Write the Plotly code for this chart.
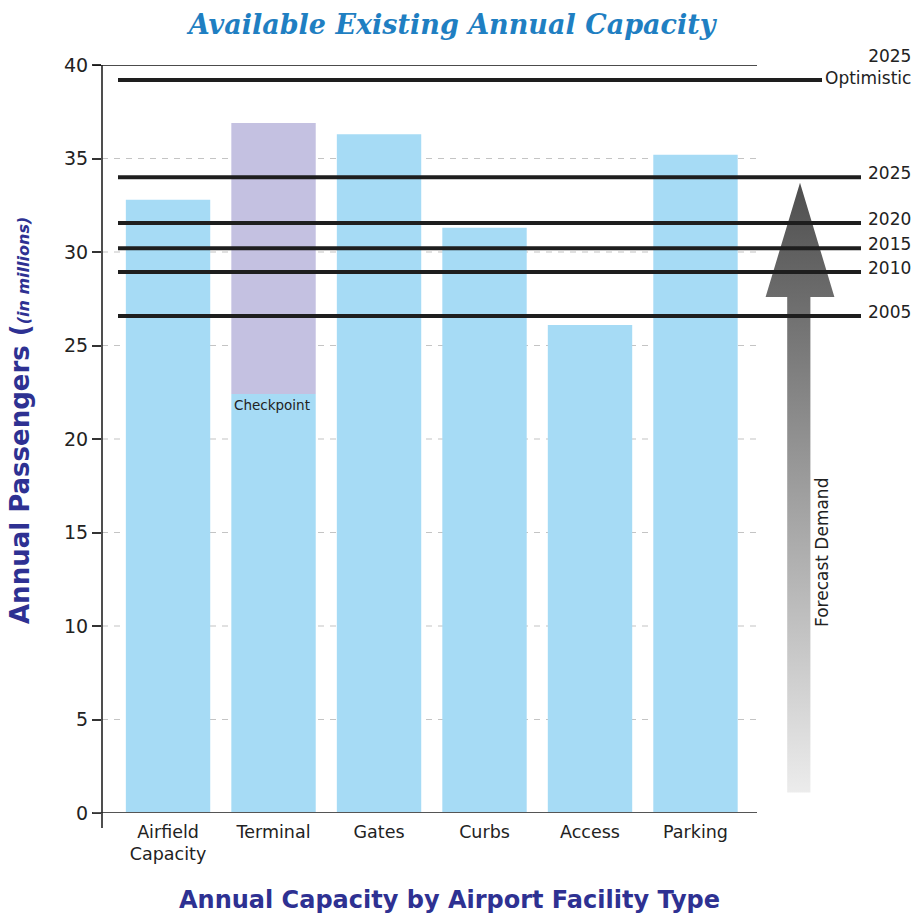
import plotly.graph_objects as go

# ---------------- data ----------------
categories = ["Airfield<br>Capacity", "Terminal", "Gates", "Curbs", "Access", "Parking"]
capacity = [32.8, 36.9, 36.3, 31.3, 26.1, 35.2]          # total bar heights (millions)
checkpoint_capacity = [None, 22.4, None, None, None, None]  # terminal checkpoint split
demand_years = ["2025<br>Optimistic", "2025", "2020", "2015", "2010", "2005"]
demand_values = [39.2, 34.0, 31.55, 30.2, 28.93, 26.58]
y_ticks = [0, 5, 10, 15, 20, 25, 30, 35, 40]

# ---------------- layout geometry (pixels) ----------------
W, H = 915, 916
ML, MR, MT, MB = 102, 2, 65, 103
PW = W - ML - MR
PH = H - MT - MB
FONT = "DejaVu Sans"


def px(x):
    return (x - ML) / PW


def py(y):
    return (H - MB - y) / PH


main_right = px(757)

# lower (blue) part and upper (purple) part of each bar
lower = [c if cp is None else cp for c, cp in zip(capacity, checkpoint_capacity)]
upper = [0 if cp is None else c - cp for c, cp in zip(capacity, checkpoint_capacity)]

fig = go.Figure()
fig.add_trace(go.Bar(x=categories, y=lower, marker=dict(color="#a6dbf5", line=dict(width=0)),
                     hoverinfo="skip"))
fig.add_trace(go.Bar(x=categories, y=upper, base=lower,
                     marker=dict(color="#c4c1e1", line=dict(width=0)), hoverinfo="skip"))

# forecast demand arrow (gradient) on a secondary x axis
arrow_bottom, arrow_head, arrow_tip = 1.1, 27.6, 33.7
ax = [0.34, 0.34, 0.07, 0.5, 0.93, 0.63, 0.63, 0.34]
ay = [arrow_bottom, arrow_head, arrow_head, arrow_tip, arrow_head, arrow_head, arrow_bottom, arrow_bottom]
fig.add_trace(go.Scatter(
    x=ax, y=ay, xaxis="x2", yaxis="y", mode="lines", line=dict(width=0),
    fill="toself",
    fillgradient=dict(type="vertical", start=arrow_bottom, stop=arrow_tip,
                      colorscale=[[0, "#ececec"], [0.8, "#6e6e6e"], [1, "#4e4e4e"]]),
    hoverinfo="skip", showlegend=False))

shapes = []
# dashed gridlines
for t in y_ticks[1:-1]:
    shapes.append(dict(type="line", xref="paper", yref="y", x0=0, x1=main_right, y0=t, y1=t,
                       line=dict(color="#c4c4c4", width=1.2, dash="6px,6px"), layer="below"))
# top line at 40 and zero line
shapes.append(dict(type="line", xref="paper", yref="y", x0=px(93), x1=main_right, y0=40, y1=40,
                   line=dict(color="#111", width=1.6), layer="above"))
shapes.append(dict(type="line", xref="paper", yref="y", x0=px(93), x1=main_right, y0=0, y1=0,
                   line=dict(color="#555", width=2), layer="above"))
# y axis line
shapes.append(dict(type="line", xref="paper", yref="paper", x0=0, x1=0, y0=py(828), y1=1,
                   line=dict(color="#222", width=1.6), layer="above"))
# demand lines
for lbl, v in zip(demand_years, demand_values):
    x1 = px(822) if "Optimistic" in lbl else px(861)
    shapes.append(dict(type="line", xref="paper", yref="y", x0=px(118), x1=x1, y0=v, y1=v,
                       line=dict(color="#1e1e1e", width=4), layer="above"))

annotations = []
for lbl, v in zip(demand_years, demand_values):
    if "Optimistic" in lbl:
        annotations.append(dict(text=lbl, xref="paper", yref="y", x=1.0, y=v, xanchor="right",
                                yanchor="middle", align="right", yshift=13, showarrow=False,
                                font=dict(family=FONT, size=17, color="#222")))
    else:
        annotations.append(dict(text=lbl, xref="paper", yref="y", x=1.0, y=v, xanchor="right",
                                yanchor="middle", yshift=4, showarrow=False,
                                font=dict(family=FONT, size=17, color="#222")))

annotations.append(dict(text="Checkpoint", xref="x", yref="y", x=categories[1], y=checkpoint_capacity[1],
                        xanchor="center", yanchor="top", yshift=-1, xshift=-2, showarrow=False,
                        font=dict(family=FONT, size=13.5, color="#222")))
annotations.append(dict(text="Forecast Demand", xref="paper", yref="paper", x=px(822), y=py(553),
                        textangle=-90, showarrow=False, xanchor="center", yanchor="middle",
                        font=dict(family=FONT, size=17, color="#222")))
annotations.append(dict(text="<b>Annual Capacity by Airport Facility Type</b>", xref="paper", yref="paper",
                        x=px(449), y=py(900), showarrow=False, xanchor="center", yanchor="middle",
                        font=dict(family=FONT, size=24, color="#2e3192")))
annotations.append(dict(text="<b>Annual Passengers (</b><b><i><span style='font-size:16px'>(in millions)</span></i></b>",
                        xref="paper", yref="paper", x=px(20), y=py(421), textangle=-90,
                        showarrow=False, xanchor="center", yanchor="middle",
                        font=dict(family=FONT, size=26, color="#2e3192")))

fig.update_layout(
    width=W, height=H,
    margin=dict(l=ML, r=MR, t=MT, b=MB),
    paper_bgcolor="white", plot_bgcolor="white",
    barmode="overlay", bargap=0.2, showlegend=False,
    title=dict(text="<b><i>Available Existing Annual Capacity</i></b>", x=452 / W, xref="container",
               xanchor="center", y=1 - 25 / H, yanchor="middle",
               font=dict(family="DejaVu Serif", size=27, color="#1f7fc2")),
    xaxis=dict(domain=[0, main_right], range=[-0.626, 5.583], showgrid=False, zeroline=False,
               showline=False, ticks="", ticklabelstandoff=6,
               tickfont=dict(family=FONT, size=17.5, color="#222")),
    xaxis2=dict(domain=[px(760), px(840)], range=[0, 1], anchor="y", visible=False, fixedrange=True),
    yaxis=dict(range=[0, 40], tickvals=y_ticks, showgrid=False, zeroline=False, showline=False,
               ticks="outside", ticklen=9, tickwidth=1.5, tickcolor="#333",
               tickfont=dict(family=FONT, size=19, color="#222")),
    shapes=shapes, annotations=annotations,
)

fig.write_html("out.html", config={"displayModeBar": False},
               post_script="document.body.style.margin='0px';document.body.style.overflow='hidden';")
